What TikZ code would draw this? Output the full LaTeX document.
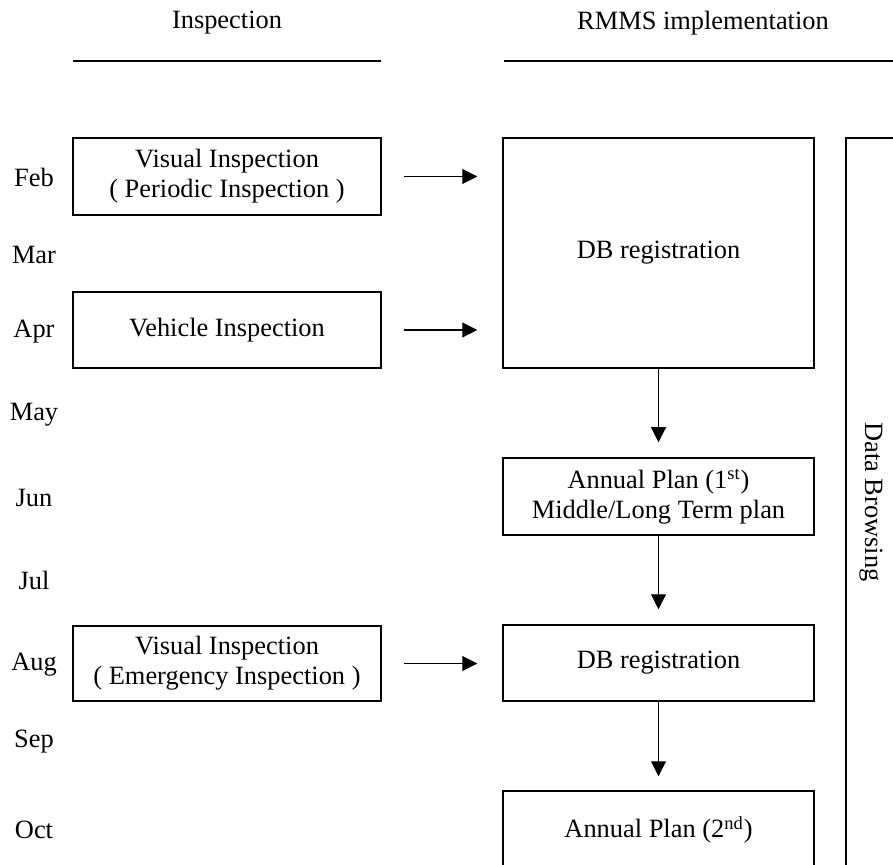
\documentclass[tikz,border=0pt]{standalone}
\usepackage{fontspec}
\setmainfont{Liberation Serif}
\usetikzlibrary{arrows.meta}
\begin{document}
\begin{tikzpicture}[x=0.5pt,y=-0.5pt,
 font=\fontsize{13.2}{15}\selectfont,
 lbox/.style={draw,line width=0.75pt,align=center,inner sep=0pt,minimum width=154pt,minimum height=38pt},
 rbox/.style={draw,line width=0.75pt,align=center,inner sep=0pt,minimum width=155.5pt,minimum height=38pt},
 month/.style={inner sep=0pt},
 rule/.style={line width=1pt},
 arr/.style={line width=0.55pt,-{Triangle[length=7.5pt,width=7.5pt]}}]
\useasboundingbox (0,0) rectangle (893,865);
\clip (0,0) rectangle (893,865);
\node (insp) at (227,23) {Inspection};
\node (rmms) at (703,23) {RMMS implementation};
\draw[rule] (73,61) -- (381,61);
\draw[rule] (504,61) -- (900,61);
\foreach \m/\y in {Feb/177,Mar/255,Apr/332,May/415,Jun/498,Jul/580,Aug/665,Sep/742,Oct/830}{
  \node[month] (m\m) at (34,\y) {\m};
}
\node[lbox,minimum height=38.5pt] (vis1) at (227,176.5) {Visual Inspection\\( Periodic Inspection )};
\node[lbox] (veh) at (227,330) {Vehicle Inspection};
\node[lbox,minimum height=37.5pt] (vis2) at (227,663.5) {Visual Inspection\\( Emergency Inspection )};
\node[rbox,minimum height=115pt] (db1) at (658.5,253) {DB registration};
\node[rbox,minimum height=38.5pt] (ap1) at (658.5,496.5) {Annual Plan (1\textsuperscript{st})\\Middle/Long Term plan};
\node[rbox] (db2) at (658.5,663) {DB registration};
\node[rbox,minimum height=39pt] (ap2) at (658.5,830) {Annual Plan (2\textsuperscript{nd})};
\node[draw,line width=0.75pt,rotate=-90,inner sep=0pt,minimum width=364pt,minimum height=25pt] (browse) at (871,502) {Data Browsing};
\draw[arr,shorten <=11pt,shorten >=12.5pt] (vis1.east) -- (vis1.east -| db1.west);
\draw[arr,shorten <=11pt,shorten >=12.5pt] (veh.east) -- (veh.east -| db1.west);
\draw[arr,shorten <=11pt,shorten >=12.5pt] (vis2.east) -- (vis2.east -| db2.west);
\draw[arr,shorten >=7.5pt] (db1) -- (ap1);
\draw[arr,shorten >=7.5pt] (ap1) -- (db2);
\draw[arr,shorten >=7pt] (db2) -- (ap2);
\end{tikzpicture}
\end{document}
